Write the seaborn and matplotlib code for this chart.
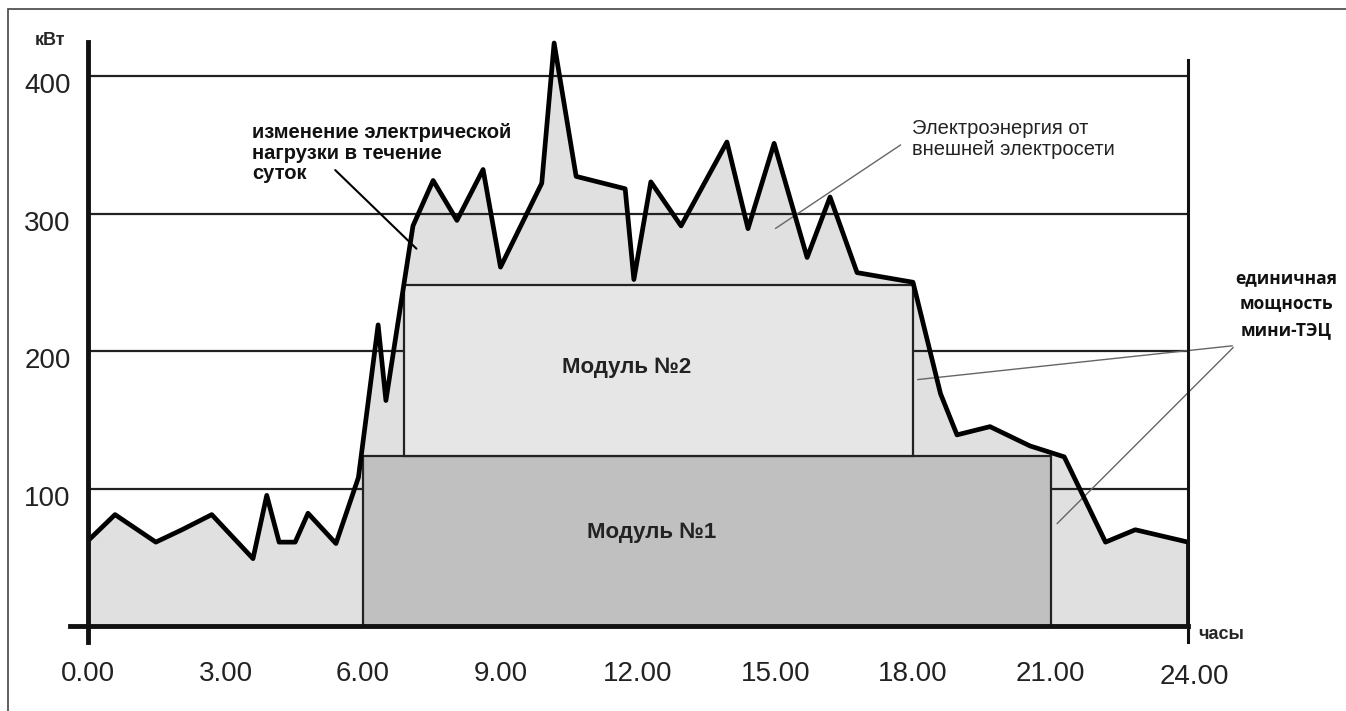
import matplotlib
matplotlib.use('Agg')
import matplotlib.pyplot as plt
import matplotlib.transforms as mtransforms
from matplotlib.patches import Rectangle
import seaborn as sns

# суточный график электрической нагрузки, кВт
hours = [0, 0.59, 1.48, 2.05, 2.7, 3.6, 3.9, 4.17, 4.52, 4.8, 5.41, 5.9, 6.33, 6.5,
         7.09, 7.53, 8.05, 8.62, 9.0, 9.9, 10.17, 10.65, 11.72, 11.91, 12.28, 12.94,
         13.94, 14.4, 14.97, 15.69, 16.19, 16.78, 18.0, 18.6, 18.96, 19.68, 20.55,
         21.3, 22.2, 22.85, 24.0]
load = [62, 81, 61, 70, 81, 49, 95, 61, 61, 82, 60, 108, 219, 164,
        291, 324, 295, 332, 261, 322, 424, 327, 318, 252, 323, 291,
        352, 289, 351, 268, 312, 257, 250, 169, 139, 145, 131,
        123, 61, 70, 61]

# модули мини-ТЭЦ
module_names = ['Модуль №1', 'Модуль №2']
module_start = [6.0, 6.9]
module_end = [21.0, 18.0]
module_base = [0, 124]
module_top = [124, 248]
module_colors = ['#c0c0c0', '#e6e6e6']
module_label_x = [12.3, 11.76]
module_label_y = [68, 188]

x_ticks = [0, 3, 6, 9, 12, 15, 18, 21, 24]
x_labels = ['0.00', '3.00', '6.00', '9.00', '12.00', '15.00', '18.00', '21.00', '24.00']
y_ticks = [100, 200, 300, 400]

sns.set_style('white')
plt.rcParams['font.family'] = ['Liberation Sans', 'DejaVu Sans']

W, H = 1346, 711
fig = plt.figure(figsize=(W / 100, H / 100), dpi=100)
ax = fig.add_axes([88 / W, 85 / H, 1100 / W, 605 / H])
ax.set_xlim(0, 24)
ax.set_ylim(0, 440)

# заливка под кривой нагрузки
ax.fill_between(hours, load, color='#e0e0e0', lw=0, zorder=1)

# сетка
for y in y_ticks:
    ax.axhline(y, color='#222222', lw=1.6, zorder=1.5)

# модули
widths = [e - s for s, e in zip(module_start, module_end)]
heights = [t - b for b, t in zip(module_base, module_top)]
ax.bar(module_start, heights, width=widths, bottom=module_base, align='edge',
       color=module_colors, edgecolor='#222222', linewidth=1.6, zorder=2)
for name, lx, ly in zip(module_names, module_label_x, module_label_y):
    ax.text(lx, ly, name, ha='center', va='center',
            fontsize=16, fontweight='bold', color='#222222', zorder=5)

# кривая нагрузки
sns.lineplot(x=hours, y=load, ax=ax, color='black', lw=3.4, sort=False, zorder=4)
ax.vlines(hours[-1], 0, load[-1], color='black', lw=3.4, zorder=4)

# оси
ax.spines['top'].set_visible(False)
ax.spines['left'].set_bounds(-11.6, 424.7)
ax.spines['left'].set_linewidth(3.5)
ax.spines['right'].set_bounds(-11.6, 411.6)
ax.spines['right'].set_linewidth(2.2)
ax.spines['bottom'].set_bounds(-0.39, 24)
ax.spines['bottom'].set_linewidth(3.5)
for sp in ax.spines.values():
    sp.set_color('#111111')
    sp.set_zorder(6)

ax.set_xticks(x_ticks)
ax.set_xticklabels(x_labels)
ax.set_yticks(y_ticks)
ax.tick_params(axis='x', direction='out', length=11.5, width=2.5, color='#111111',
               labelsize=20, labelcolor='#222222', pad=14)
ax.tick_params(axis='y', direction='out', length=11.5, width=1.6, color='#222222',
               labelsize=20, labelcolor='#222222', pad=1)
shift = mtransforms.ScaledTranslation(0, -0.07, fig.dpi_scale_trans)
for lab in ax.get_yticklabels():
    lab.set_transform(lab.get_transform() + shift)
last = ax.get_xticklabels()[-1]
last.set_transform(last.get_transform() + mtransforms.ScaledTranslation(0.06, -0.03, fig.dpi_scale_trans))

ax.text(-0.83, 426, 'кВт', ha='center', va='center', fontsize=13, fontweight='bold')
ax.text(24.22, -6, 'часы', ha='left', va='center', fontsize=13, fontweight='bold')

# подписи
ax.text(3.58, 366, 'изменение электрической\nнагрузки в течение\nсуток', ha='left', va='top',
        fontsize=14.5, fontweight='bold', color='#111111', linespacing=1.12)
ax.annotate('', xy=(7.21, 273), xytext=(5.35, 333),
            arrowprops=dict(arrowstyle='-', color='black', lw=1.5))

ax.text(17.98, 369, 'Электроэнергия от\nвнешней электросети', ha='left', va='top',
        fontsize=14.5, color='#222222', linespacing=1.15)
ax.annotate('', xy=(14.95, 288), xytext=(17.78, 351),
            arrowprops=dict(arrowstyle='-', color='#666666', lw=1))

ax.text(26.15, 234, 'единичная\nмощность\nмини-ТЭЦ', ha='center', va='center',
        fontsize=12.5, fontweight='bold', family=['Open Sans', 'DejaVu Sans'],
        color='#111111', linespacing=1.55)
ax.annotate('', xy=(18.04, 179), xytext=(25.03, 204),
            arrowprops=dict(arrowstyle='-', color='#666666', lw=1))
ax.annotate('', xy=(21.1, 73), xytext=(25.03, 204),
            arrowprops=dict(arrowstyle='-', color='#666666', lw=1))

# рамка рисунка
fig.add_artist(Rectangle((8 / W, -0.05), 1.1, (H - 9) / H + 0.05, transform=fig.transFigure,
                         fill=False, ec='#444444', lw=1.2))

fig.savefig('out.png', dpi=100)
